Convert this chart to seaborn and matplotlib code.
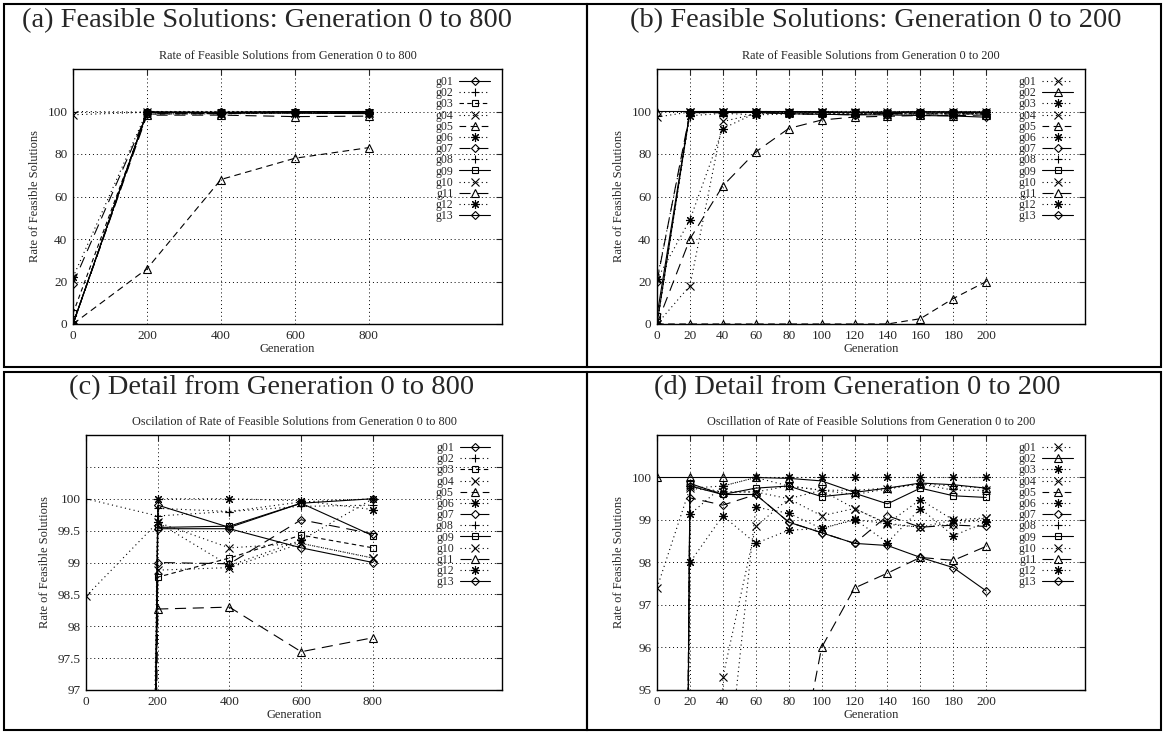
import matplotlib
matplotlib.use("Agg")
import matplotlib.pyplot as plt
import seaborn as sns
from matplotlib.patches import Rectangle

W, H = 1165, 733

names = [f"g{i:02d}" for i in range(1, 14)]

# generations sampled in the long runs (panels a, c)
gens_long = [0, 200, 400, 600, 800]
long_g01 = [0, 99.9, 99.55, 99.93, 100]
long_g02 = [100, 99.73, 99.8, 99.88, 99.9]
long_g03 = [5, 98.77, 99.07, 99.43, 99.23]
long_g04 = [98.47, 99.63, 99.23, 99.3, 99.07]
long_g05 = [0, 26, 68, 78, 83]
long_g06 = [22, 100, 100, 99.97, 99.83]
long_g07 = [19, 99.0, 98.98, 99.67, 99.45]
long_g08 = [0, 99.85, 99.8, 99.95, 100]
long_g09 = [0, 99.55, 99.57, 99.93, 99.42]
long_g10 = [0, 98.88, 98.92, 99.3, 99.07]
long_g11 = [0, 98.27, 98.3, 97.6, 97.82]
long_g12 = [0, 99.63, 98.95, 99.35, 100]
long_g13 = [0, 99.53, 99.53, 99.23, 99.0]

# generations sampled in the short runs (panels b, d)
gens_short = [0, 20, 40, 60, 80, 100, 120, 140, 160, 180, 200]
short_g01 = [0, 18, 95.3, 98.85, 99.5, 99.1, 99.27, 98.92, 98.83, 99.0, 99.05]
short_g02 = [100, 100, 100, 100, 99.98, 99.92, 99.65, 99.75, 99.87, 99.83, 99.75]
short_g03 = [21, 49, 92, 99.3, 99.16, 98.8, 99.02, 98.47, 99.27, 98.63, 98.95]
short_g04 = [97.4, 99.75, 99.66, 99.66, 99.8, 99.7, 99.6, 99.73, 99.85, 99.7, 99.7]
short_g05 = [0, 0, 0, 0, 0, 0, 0, 0, 2.5, 12, 20]
short_g06 = [21, 98.0, 99.1, 98.45, 98.76, 98.8, 99.0, 98.92, 99.48, 99.0, 98.95]
short_g07 = [20, 99.52, 99.35, 99.6, 98.95, 98.7, 98.45, 99.1, 98.83, 98.88, 98.85]
short_g08 = [0, 99.75, 99.8, 100, 99.8, 99.7, 99.7, 99.75, 99.85, 99.8, 99.75]
short_g09 = [4, 99.86, 99.6, 99.75, 99.8, 99.55, 99.63, 99.38, 99.75, 99.57, 99.53]
short_g10 = [0, 99.8, 99.66, 99.66, 99.5, 99.7, 99.27, 98.9, 98.83, 98.9, 99.05]
short_g11 = [0, 40, 65, 81, 92, 96, 97.4, 97.75, 98.12, 98.05, 98.38]
short_g12 = [0, 99.13, 99.8, 100, 100, 100, 100, 100, 100, 100, 100]
short_g13 = [0, 99.8, 99.6, 99.6, 98.95, 98.7, 98.45, 98.4, 98.12, 97.88, 97.33]

long_series = dict(zip(names, [long_g01, long_g02, long_g03, long_g04, long_g05, long_g06, long_g07,
                               long_g08, long_g09, long_g10, long_g11, long_g12, long_g13]))
short_series = dict(zip(names, [short_g01, short_g02, short_g03, short_g04, short_g05, short_g06, short_g07,
                                short_g08, short_g09, short_g10, short_g11, short_g12, short_g13]))

# gnuplot-ish line types
SOLID = "-"
DOT = (0, (1, 3))
DASH = (0, (4, 3))
MDASH = (0, (6, 4))
LDASH = (0, (10, 6))
STAR = (8, 2, 0)

long_styles = {
    "g01": (SOLID, "D"), "g02": (DOT, "+"), "g03": (DASH, "s"), "g04": (DOT, "x"),
    "g05": (MDASH, "^"), "g06": (DOT, STAR), "g07": (LDASH, "D"), "g08": (DOT, "+"),
    "g09": (SOLID, "s"), "g10": (DOT, "x"), "g11": (LDASH, "^"), "g12": (DOT, STAR),
    "g13": (SOLID, "D"),
}
short_styles = {
    "g01": (DOT, "x"), "g02": (SOLID, "^"), "g03": (DOT, STAR), "g04": (DOT, "x"),
    "g05": (MDASH, "^"), "g06": (DOT, STAR), "g07": (LDASH, "D"), "g08": (DOT, "+"),
    "g09": (SOLID, "s"), "g10": (DOT, "x"), "g11": (LDASH, "^"), "g12": (DOT, STAR),
    "g13": (SOLID, "D"),
}
marker_size = {"D": 4, "s": 5, "^": 6, "x": 5.5, "+": 6, STAR: 6.5}

sns.set_style("white")
plt.rcParams["font.family"] = ["Liberation Serif", "DejaVu Serif"]

fig = plt.figure(figsize=(W / 100, H / 100), dpi=100)


def px_axes(left, top, right, bottom):
    return fig.add_axes([left / W, (H - bottom) / H, (right - left) / W, (bottom - top) / H])


def draw_panel(ax, gens, series, styles, xlim, xticks, ylim, yticks, ylabels, title):
    for name in names:
        ls, mk = styles[name]
        sns.lineplot(x=gens, y=series[name], ax=ax, color="black", linestyle=ls,
                     linewidth=0.8, marker=mk, markersize=marker_size[mk],
                     markerfacecolor="none", markeredgecolor="black",
                     markeredgewidth=0.8, label=name)
    ax.set_xlim(*xlim)
    ax.set_ylim(*ylim)
    ax.set_xticks(xticks)
    ax.set_yticks(yticks)
    ax.set_yticklabels(ylabels)
    ax.grid(True, color="black", linestyle=(0, (1, 3)), linewidth=0.7)
    ax.tick_params(direction="in", top=True, right=True, length=4, width=0.8,
                   labelsize=9.5, pad=4)
    for sp in ax.spines.values():
        sp.set_linewidth(1.0)
        sp.set_color("black")
    ax.set_title(title, fontsize=8.8, pad=7)
    ax.set_xlabel("Generation", fontsize=9, labelpad=1)
    ax.set_ylabel("Rate of Feasible Solutions", fontsize=9, labelpad=5)
    handles, labels = ax.get_legend_handles_labels()
    ax.legend(handles, labels, loc="upper right", bbox_to_anchor=(0.972, 0.972),
              frameon=False, markerfirst=False, fontsize=8.5, labelspacing=-0.07,
              handlelength=2.6, handletextpad=0.5, borderpad=0, borderaxespad=0)


ax_a = px_axes(73, 69, 502, 324)
draw_panel(ax_a, gens_long, long_series, long_styles, (0, 1160), [0, 200, 400, 600, 800],
           (0, 120), [0, 20, 40, 60, 80, 100], ["0", "20", "40", "60", "80", "100"],
           "Rate of Feasible Solutions from Generation 0 to 800")

ax_b = px_axes(657, 69, 1085, 324)
draw_panel(ax_b, gens_short, short_series, short_styles, (0, 260), gens_short,
           (0, 120), [0, 20, 40, 60, 80, 100], ["0", "20", "40", "60", "80", "100"],
           "Rate of Feasible Solutions from Generation 0 to 200")

ax_c = px_axes(86, 435, 502, 690)
draw_panel(ax_c, gens_long, long_series, long_styles, (0, 1160), [0, 200, 400, 600, 800],
           (97, 101), [97, 97.5, 98, 98.5, 99, 99.5, 100, 100.5],
           ["97", "97.5", "98", "98.5", "99", "99.5", "100", ""],
           "Oscilation of Rate of Feasible Solutions from Generation 0 to 800")

ax_d = px_axes(657, 435, 1085, 690)
draw_panel(ax_d, gens_short, short_series, short_styles, (0, 260), gens_short,
           (95, 101), [95, 96, 97, 98, 99, 100], ["95", "96", "97", "98", "99", "100"],
           "Oscillation of Rate of Feasible Solutions from Generation 0 to 200")

# panel headings
fig.text(267 / W, 1 - 21 / H, "(a) Feasible Solutions: Generation 0 to 800", fontsize=20.5,
         ha="center", va="center")
fig.text(876 / W, 1 - 21 / H, "(b) Feasible Solutions: Generation 0 to 200", fontsize=20.5,
         ha="center", va="center")
fig.text(272 / W, 1 - 388 / H, "(c) Detail from Generation 0 to 800", fontsize=20.5,
         ha="center", va="center")
fig.text(857 / W, 1 - 388 / H, "(d) Detail from Generation 0 to 200", fontsize=20.5,
         ha="center", va="center")

# frames around the panels
for (x0, y0, x1, y1) in [(4, 4, 587, 367), (587, 4, 1161, 367),
                         (4, 372, 587, 730), (587, 372, 1161, 730)]:
    fig.add_artist(Rectangle((x0 / W, 1 - y1 / H), (x1 - x0) / W, (y1 - y0) / H,
                             transform=fig.transFigure, fill=False, edgecolor="black",
                             linewidth=1.5))

fig.savefig("out.png", dpi=100)
